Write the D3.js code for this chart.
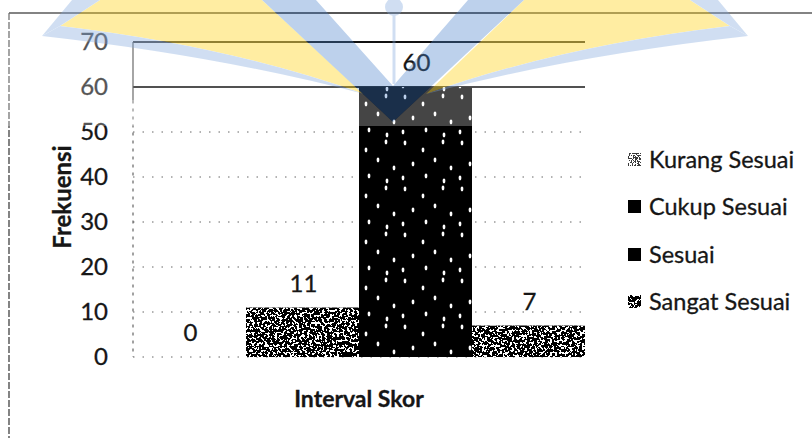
<!DOCTYPE html>
<html>
<head>
<meta charset="utf-8">
<script src="https://cdn.jsdelivr.net/npm/d3@7"></script>
<style>
  html, body { margin: 0; padding: 0; background: #fff; }
  svg { display: block; }
  text { font-family: Lato, "Open Sans", sans-serif; fill: #161616; stroke: #161616; stroke-width: 0.3px; }
</style>
</head>
<body>
<svg id="chart" width="812" height="438"></svg>
<script>
// Score interval groups and their frequencies
const seriesNames = ["Kurang Sesuai", "Cukup Sesuai", "Sesuai", "Sangat Sesuai"];
const frekuensi = [0, 11, 60, 7];
const yTicks = [0, 10, 20, 30, 40, 50, 60, 70];
const yTitle = "Frekuensi";
const xTitle = "Interval Skor";
// bar fill style per series
const fillKind = ["light", "speckle", "dots", "speckle"];
// legend swatch style per series
const swatchKind = ["light", "solid", "solid", "speckle"];

const svg = d3.select("#chart");
const W = 812, H = 438;
const plot = { left: 133, right: 585, top: 42, bottom: 357 };

const y = d3.scaleLinear().domain([0, 70]).range([plot.bottom, plot.top]);
const x = d3.scaleBand().domain(seriesNames).range([plot.left, plot.right]).padding(0);

const defs = svg.append("defs");

// speckled granite texture: white specks cut out of fractal noise
function speckleFilter(id, table, freq, seed) {
  const f = defs.append("filter").attr("id", id)
    .attr("x", 0).attr("y", 0).attr("width", 1).attr("height", 1)
    .attr("color-interpolation-filters", "sRGB");
  f.append("feTurbulence").attr("type", "fractalNoise")
    .attr("baseFrequency", freq).attr("numOctaves", 2).attr("seed", seed).attr("result", "n");
  f.append("feColorMatrix").attr("in", "n").attr("type", "matrix")
    .attr("values", "0 0 0 0 1  0 0 0 0 1  0 0 0 0 1  1 0 0 0 0").attr("result", "a");
  f.append("feComponentTransfer").attr("in", "a").attr("result", "t")
    .append("feFuncA").attr("type", "discrete").attr("tableValues", table);
  f.append("feComposite").attr("in", "t").attr("in2", "SourceGraphic").attr("operator", "in");
}
speckleFilter("speckle", "0 0 0 0 0 0 0 0 0 0 0 1 1 1 1 1 1 1 1 1", 0.4, 7);
speckleFilter("speckleLight", "0 0 0 0 0 0 0 0 1 1 1 1 1 1 1 1", 0.7, 3);

// sparse white dots on black
const dotPat = defs.append("pattern").attr("id", "dots")
  .attr("patternUnits", "userSpaceOnUse").attr("width", 57).attr("height", 46);
dotPat.append("rect").attr("width", 57).attr("height", 46).attr("fill", "#000");
[[6, 5], [24, 12], [44, 4], [14, 26], [36, 22], [52, 30], [4, 40], [27, 38], [45, 43]]
  .forEach(([cx, cy]) => dotPat.append("ellipse")
    .attr("cx", cx).attr("cy", cy).attr("rx", 1.4).attr("ry", 2.4).attr("fill", "#fff"));

// outer frame of the figure
svg.append("line").attr("x1", 9).attr("x2", W).attr("y1", 13).attr("y2", 13)
  .attr("stroke", "#1e1e1e").attr("stroke-width", 1.6);
svg.append("line").attr("x1", 9).attr("x2", 9).attr("y1", 13).attr("y2", H)
  .attr("stroke", "#333").attr("stroke-width", 1.2).attr("stroke-dasharray", "7,2");

// gridlines
svg.append("g").selectAll("line").data(yTicks).join("line")
  .attr("x1", plot.left).attr("x2", plot.right)
  .attr("y1", d => y(d)).attr("y2", d => y(d))
  .attr("stroke", d => d >= 60 ? "#111" : "#666")
  .attr("stroke-width", d => d >= 60 ? 2 : 1)
  .attr("stroke-dasharray", d => d >= 60 ? null : "1.5,8");

// vertical axis line
svg.append("line").attr("x1", plot.left).attr("x2", plot.left)
  .attr("y1", plot.top).attr("y2", y(57)).attr("stroke", "#333").attr("stroke-width", 1.2);
svg.append("line").attr("x1", plot.left).attr("x2", plot.left)
  .attr("y1", y(57)).attr("y2", plot.bottom).attr("stroke", "#555")
  .attr("stroke-width", 1.1).attr("stroke-dasharray", "3,5");

// bars
const bars = svg.append("g");
seriesNames.forEach((name, i) => {
  const v = frekuensi[i];
  if (v <= 0) return;
  const bx = x(name), bw = x.bandwidth(), by = y(v), bh = y(0) - y(v);
  if (fillKind[i] === "dots") {
    bars.append("rect").attr("x", bx).attr("y", by).attr("width", bw).attr("height", bh)
      .attr("fill", "url(#dots)");
  } else {
    bars.append("rect").attr("x", bx).attr("y", by).attr("width", bw).attr("height", bh)
      .attr("fill", "#000");
    bars.append("rect").attr("x", bx).attr("y", by).attr("width", bw).attr("height", bh)
      .attr("fill", "#fff").attr("filter", "url(#speckle)");
  }
});

// value labels
svg.append("g").selectAll("text").data(seriesNames).join("text")
  .attr("x", d => x(d) + x.bandwidth() / 2 + 1)
  .attr("y", (d, i) => y(frekuensi[i]) - 16)
  .attr("text-anchor", "middle")
  .attr("font-size", 24)
  .text((d, i) => frekuensi[i]);

// y tick labels
const yAxis = svg.append("g").attr("transform", `translate(${plot.left},0)`)
  .call(d3.axisLeft(y).tickValues(yTicks).tickSize(0).tickPadding(25));
yAxis.select(".domain").remove();
yAxis.selectAll("text").attr("font-size", 24).attr("font-family", "Lato, sans-serif")
  .attr("fill", "#161616");

// axis titles
svg.append("text").attr("transform", "translate(71,197) rotate(-90)")
  .attr("text-anchor", "middle").attr("font-size", 24).attr("font-weight", 700)
  .text(yTitle);
svg.append("text").attr("x", 359).attr("y", 407)
  .attr("text-anchor", "middle").attr("font-size", 23).attr("font-weight", 700)
  .text(xTitle);

// legend
const legendY = [160, 207, 255, 302];
const legend = svg.append("g");
seriesNames.forEach((name, i) => {
  const g = legend.append("g").attr("transform", `translate(628,${legendY[i]})`);
  g.append("rect").attr("x", 0).attr("y", -7).attr("width", 13).attr("height", 13)
    .attr("fill", i === 0 ? "#3a3a3a" : "#000");
  if (swatchKind[i] !== "solid") {
    g.append("rect").attr("x", 0).attr("y", -7).attr("width", 13).attr("height", 13)
      .attr("fill", "#fff").attr("filter", swatchKind[i] === "light" ? "url(#speckleLight)" : "url(#speckle)");
  }
  g.append("text").attr("x", 21).attr("y", 0).attr("dy", "0.36em")
    .attr("font-size", 23.5).text(name);
});

// faint emblem printed over the top of the page
// white veil (with the V left open so the blue reads dark over the bar)
svg.append("path").attr("fill", "#fff").attr("opacity", 0.27).attr("fill-rule", "evenodd")
  .attr("d", `M0,0 H${W} V126 H0 Z M262,0 L393,122 L524,0 Z`);
const mark = svg.append("g").attr("opacity", 0.36);
// yellow wings
mark.append("path").attr("fill", "#ffd000")
  .attr("d", "M100,0 L262,0 L364,94 Q230,46 60,26 Z");
mark.append("path").attr("fill", "#ffd000")
  .attr("d", "M690,0 L524,0 L426,94 Q560,46 730,26 Z");
// pale blue edge under each wing
mark.append("path").attr("fill", "#7ea6dc")
  .attr("d", "M60,26 Q230,46 364,94 Q220,56 42,36 Z");
mark.append("path").attr("fill", "#7ea6dc")
  .attr("d", "M730,26 Q560,46 426,94 Q570,56 748,36 Z");
mark.append("path").attr("fill", "#7ea6dc").attr("d", "M42,36 L60,26 L100,0 L72,0 Z");
mark.append("path").attr("fill", "#7ea6dc").attr("d", "M748,36 L730,26 L690,0 L718,0 Z");
// central V, torch head and stem
mark.append("path").attr("fill", "#4a82cc").attr("fill-rule", "evenodd")
  .attr("d", "M262,0 L393,122 L524,0 Z M316,0 L393,86 L468,0 Z");
mark.append("circle").attr("cx", 394).attr("cy", 7).attr("r", 9).attr("fill", "#7ea6dc");
mark.append("rect").attr("x", 392.5).attr("y", 14).attr("width", 3).attr("height", 70).attr("fill", "#7ea6dc");
</script>
</body>
</html>
